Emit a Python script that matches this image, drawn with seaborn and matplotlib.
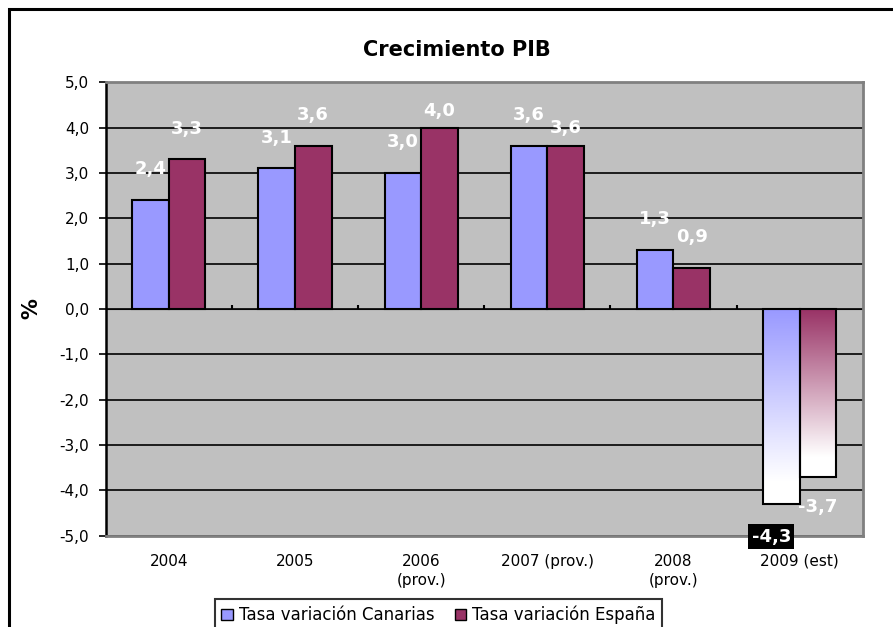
import numpy as np
import pandas as pd
import matplotlib
matplotlib.use("Agg")
import matplotlib.pyplot as plt
from matplotlib.patches import Patch, Rectangle
from matplotlib.colors import to_rgb
import seaborn as sns

# ---- data ----
years = ["2004", "2005", "2006\n(prov.)", "2007 (prov.)", "2008\n(prov.)", "2009 (est)"]
canarias = [2.4, 3.1, 3.0, 3.6, 1.3, -4.3]
espana = [3.3, 3.6, 4.0, 3.6, 0.9, -3.7]
series_names = ["Tasa variación Canarias", "Tasa variación España"]
y_ticks = [-5, -4, -3, -2, -1, 0, 1, 2, 3, 4, 5]
title = "Crecimiento PIB"

colors = ["#9999FF", "#993366"]

df = pd.DataFrame({
    "year": years * 2,
    "value": canarias + espana,
    "serie": [series_names[0]] * len(years) + [series_names[1]] * len(years),
})

sns.set_style("white")
plt.rcParams["font.family"] = ["DejaVu Sans"]
plt.rcParams["text.color"] = "black"
plt.rcParams["axes.labelcolor"] = "black"
plt.rcParams["xtick.color"] = "black"
plt.rcParams["ytick.color"] = "black"

W, H = 893, 627
fig = plt.figure(figsize=(W / 100, H / 100), dpi=100)
ax = fig.add_axes([105.7 / W, 1 - 535.5 / H, (862.7 - 105.7) / W, (535.5 - 82.4) / H])
ax.set_facecolor("#C0C0C0")
ax.set_axisbelow(True)

sns.barplot(data=df, x="year", y="value", hue="serie", order=years,
            hue_order=series_names, palette=colors, width=0.58,
            edgecolor="black", linewidth=1.5, saturation=1, ax=ax, legend=False)

ax.set_xlim(-0.5, len(years) - 0.5)
ax.set_ylim(min(y_ticks), max(y_ticks))

# gradient fill for negative bars
for ci, cont in enumerate(ax.containers):
    base = np.array(to_rgb(colors[ci]))
    for bar in cont:
        h = bar.get_height()
        if h < 0:
            t = np.clip(np.linspace(0, 1, 256) / 0.88, 0, 1)[:, None]
            grad = base[None, :] * (1 - t) + np.ones(3)[None, :] * t
            img = grad[:, None, :]
            x0 = bar.get_x()
            w = bar.get_width()
            y0 = bar.get_y()
            im = ax.imshow(img, extent=(x0, x0 + w, y0 + h, y0), aspect="auto",
                           zorder=bar.get_zorder() - 0.01, interpolation="bilinear")
            im.set_clip_path(bar)
            bar.set_facecolor("none")

ax.set_aspect("auto")
ax.set_xlim(-0.5, len(years) - 0.5)
ax.set_ylim(min(y_ticks), max(y_ticks))

# data labels
label_nudge = {(1, 2): (0.0, -0.32), (1, 3): (0.0, -0.28), (0, 5): (-0.08, -0.07)}
for ci, cont in enumerate(ax.containers):
    for j, bar in enumerate(cont):
        v = bar.get_height()
        xc = bar.get_x() + bar.get_width() / 2
        yl = v + 0.68 if v >= 0 else v - 0.66
        dx, dy = label_nudge.get((ci, j), (0.0, 0.0))
        txt = f"{v:.1f}".replace(".", ",")
        kw = {}
        if (ci, j) == (0, 5):
            kw["bbox"] = dict(facecolor="black", edgecolor="none", pad=2.5)
        ax.text(xc + dx, yl + dy, txt, ha="center", va="center", color="white",
                fontsize=13, fontweight="bold", zorder=5, **kw)

# axes styling
ax.set_yticks(y_ticks)
ax.set_yticklabels([f"{v:.1f}".replace(".", ",") for v in y_ticks], fontsize=11)
ax.yaxis.grid(True, color="black", linewidth=1.2)
ax.xaxis.grid(False)
ax.tick_params(axis="y", which="both", left=True, length=5, width=1.2, color="black",
               labelcolor="black", pad=7)
ax.tick_params(axis="x", length=0, pad=13, labelsize=11, labelcolor="black")
for lbl in ax.get_xticklabels():
    lbl.set_linespacing(1.4)
ax.set_xlabel("")
ax.set_ylabel("%", fontsize=15, fontweight="bold", color="black")
ax.yaxis.set_label_coords((41 - 105.7) / (862.7 - 105.7), 0.5)

for s in ["top", "right", "bottom"]:
    ax.spines[s].set_color("#808080")
    ax.spines[s].set_linewidth(2)
    ax.spines[s].set_visible(True)
ax.spines["left"].set_color("black")
ax.spines["left"].set_linewidth(1.8)
ax.spines["left"].set_visible(True)

# category axis crossing at zero
zero_frac = (0 - min(y_ticks)) / (max(y_ticks) - min(y_ticks))
sec = ax.secondary_xaxis(zero_frac)
sec.set_xticks(np.arange(len(years) - 1) + 0.5)
sec.tick_params(axis="x", direction="out", length=3, width=1.5, color="black",
                labelbottom=False, labeltop=False)
sec.set_xticklabels([])
sec.spines["bottom"].set_color("black")
sec.spines["bottom"].set_linewidth(1.5)

# title
fig.text(457 / W, 1 - 50 / H, title, ha="center", va="center", fontsize=15,
         fontweight="bold", color="black")

# legend
handles = [Patch(facecolor=c, edgecolor="black", linewidth=1) for c in colors]
leg = fig.legend(handles, series_names, loc="upper center",
                 bbox_to_anchor=(438.5 / W, 1 - 599 / H),
                 ncol=2, frameon=True, fancybox=False, edgecolor="black",
                 fontsize=12, handlelength=0.7, handleheight=0.7, handletextpad=0.35,
                 columnspacing=1.2, borderpad=0.4, borderaxespad=0)
leg.get_frame().set_linewidth(1.5)
for t in leg.get_texts():
    t.set_color("black")

# chart border
fig.patches.append(Rectangle((9 / W, -0.2), 1.5, 1.2 - 9 / H, transform=fig.transFigure,
                             fill=False, edgecolor="black", linewidth=2.2))

fig.savefig("out.png", dpi=100)
